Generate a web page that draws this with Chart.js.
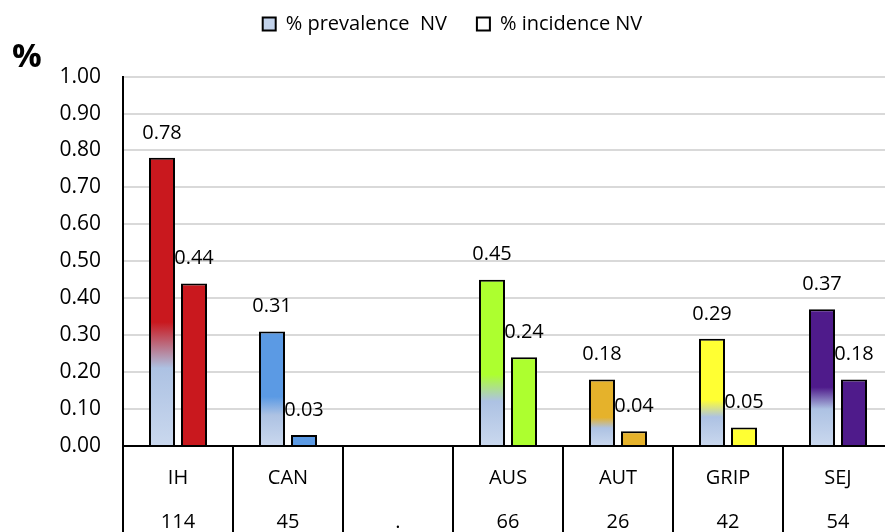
<!DOCTYPE html>
<html>
<head>
<meta charset="utf-8">
<script src="https://cdn.jsdelivr.net/npm/chart.js@4.4.1/dist/chart.umd.min.js"></script>
<style>
  html, body { margin: 0; padding: 0; background: #fff; overflow: hidden; }
  #wrap { width: 900px; height: 532px; }
</style>
</head>
<body>
<div id="wrap"><canvas id="chart" width="900" height="532"></canvas></div>
<script>
var categories = ['IH', 'CAN', '', 'AUS', 'AUT', 'GRIP', 'SEJ'];
var counts = ['114', '45', '.', '66', '26', '42', '54'];
var prevalence = [0.78, 0.31, null, 0.45, 0.18, 0.29, 0.37];
var incidence = [0.44, 0.03, null, 0.24, 0.04, 0.05, 0.18];
var barColors = ['#c9181e', '#5b9ae4', '#ffffff', '#adff2f', '#e5b22b', '#ffff33', '#4f1b8b'];

Chart.defaults.font.family = "'Open Sans', sans-serif";
Chart.defaults.color = '#000';

// light blue at the foot of each prevalence bar, fading into its own colour
function prevalenceFill(ctx) {
    var chart = ctx.chart;
    var color = barColors[ctx.dataIndex];
    if (!chart.chartArea || ctx.raw == null) {
        return color;
    }
    var y = chart.scales.y;
    var g = chart.ctx.createLinearGradient(0, y.getPixelForValue(0), 0, y.getPixelForValue(ctx.raw));
    g.addColorStop(0, '#cad8ee');
    g.addColorStop(0.27, '#adc2e3');
    g.addColorStop(0.43, color);
    g.addColorStop(1, color);
    return g;
}

// value labels go under the bars, like the source (the 0 of 0.44 is hidden)
var valueLabels = {
    id: 'valueLabels',
    beforeDatasetsDraw: function(chart) {
        var ctx = chart.ctx;
        ctx.save();
        ctx.font = "20px 'Open Sans'";
        ctx.fillStyle = '#000';
        ctx.textAlign = 'center';
        ctx.textBaseline = 'middle';
        chart.data.datasets.forEach(function(ds, i) {
            chart.getDatasetMeta(i).data.forEach(function(bar, j) {
                var v = ds.data[j];
                if (v === null) return;
                ctx.fillText(v.toFixed(2), bar.x, bar.y - 25);
            });
        });
        ctx.restore();
    }
};

var labels = categories.map(function(c, i) { return [c, counts[i]]; });

new Chart(document.getElementById('chart'), {
    type: 'bar',
    data: {
        labels: labels,
        datasets: [{
            label: '% prevalence  NV',
            data: prevalence,
            backgroundColor: prevalenceFill,
            borderColor: '#000',
            borderWidth: 2,
            categoryPercentage: 0.582,
            barPercentage: 0.8125
        }, {
            label: '% incidence NV',
            data: incidence,
            backgroundColor: barColors,
            borderColor: '#000',
            borderWidth: 2,
            categoryPercentage: 0.582,
            barPercentage: 0.8125
        }]
    },
    options: {
        responsive: false,
        animation: false,
        layout: { padding: { top: -16, left: 12, right: 7, bottom: 0 } },
        plugins: {
            tooltip: { enabled: false },
            legend: {
                position: 'top',
                labels: {
                    boxWidth: 13,
                    boxHeight: 13,
                    padding: 30,
                    font: { size: 20 },
                    color: '#000',
                    generateLabels: function(chart) {
                        return chart.data.datasets.map(function(ds, i) {
                            return {
                                text: ds.label,
                                fillStyle: i === 0 ? '#c3d3eb' : '#ffffff',
                                strokeStyle: '#000',
                                lineWidth: 2,
                                hidden: false,
                                datasetIndex: i
                            };
                        });
                    }
                }
            },
            title: {
                display: true,
                text: '%',
                align: 'start',
                weight: 500,
                font: { size: 33, weight: 'bold' },
                color: '#000',
                padding: { top: -6, bottom: -1 }
            }
        },
        scales: {
            x: {
                grid: {
                    offset: true,
                    drawOnChartArea: false,
                    drawTicks: true,
                    tickLength: 100,
                    color: '#000',
                    lineWidth: 2
                },
                border: { display: true, color: '#000', width: 2 },
                ticks: {
                    autoSkip: false,
                    maxRotation: 0,
                    minRotation: 0,
                    padding: -89.5,
                    color: '#000',
                    font: { size: 20, lineHeight: 2.18 }
                },
                afterFit: function(scale) { scale.height = 86; }
            },
            y: {
                min: 0,
                max: 1,
                grid: { color: '#d9d9d9', lineWidth: 2, drawTicks: false },
                border: { display: true, color: '#000', width: 2 },
                ticks: {
                    stepSize: 0.1,
                    padding: 22,
                    color: '#000',
                    font: { size: 21 },
                    callback: function(v) { return Number(v).toFixed(2); }
                },
                afterFit: function(scale) { scale.width = 111; }
            }
        }
    },
    plugins: [valueLabels]
});
</script>
</body>
</html>
